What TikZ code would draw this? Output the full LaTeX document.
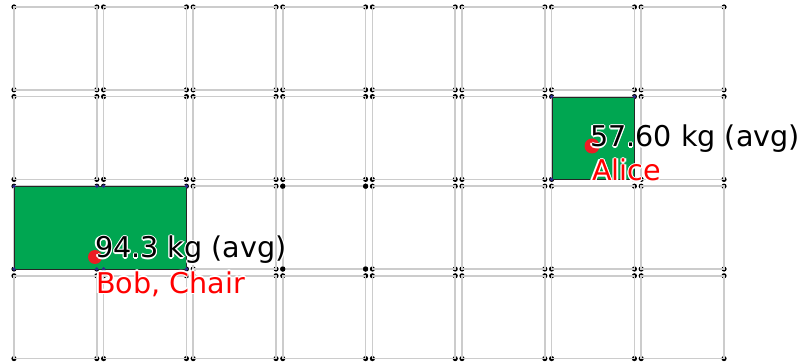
\documentclass[tikz,border=0pt]{standalone}
\usepackage{fontspec}
\setmainfont{DejaVu Sans}
\definecolor{cellgray}{RGB}{204,204,204}
\definecolor{boxgreen}{RGB}{0,166,81}
\definecolor{dotred}{RGB}{236,28,36}
\definecolor{cornerblue}{RGB}{45,45,140}
\newcommand\halotext[4]{%
  \foreach \dx/\dy in {1.3/0,-1.3/0,0/1.3,0/-1.3,0.95/0.95,-0.95/0.95,0.95/-0.95,-0.95/-0.95}{%
    \node[lbl,text=white] at ([shift={(\dx,\dy)}]#2) {#4};}%
  \node[lbl,text=#3] (#1) at (#2) {#4};}
\begin{document}
\begin{tikzpicture}[x=1pt,y=-1pt,
  cellbox/.style={inner sep=0pt,minimum size=82.4pt,anchor=north west},
  cellline/.style={draw=cellgray,line width=1.7pt},
  cdot/.style={fill=black},
  greenbox/.style={fill=boxgreen,draw=black!85,line width=1.2pt,inner sep=0pt,anchor=north west},
  reddot/.style={circle,fill=dotred,inner sep=0pt,minimum size=15pt},
  lbl/.style={anchor=base west,inner sep=0pt,font=\fontsize{28.6}{34}\selectfont}]
\useasboundingbox (0,0) rectangle (800,363);
% cell nodes
\foreach \i in {0,...,7}{\foreach \j in {0,...,3}{
  \pgfmathsetmacro\l{14+89.6*\i}
  \pgfmathsetmacro\t{7+89.6*\j}
  \node[cellbox] (c-\i-\j) at (\l,\t) {};
}}
% corner dots under the lines
\foreach \i in {0,...,7}{\foreach \j in {0,...,3}{
  \foreach \a in {north west,north east,south west,south east}{
    \fill[cdot] (c-\i-\j.\a) circle (2.6);}
}}
% cell outlines
\foreach \i in {0,...,7}{\foreach \j in {0,...,3}{
  \draw[cellline] (c-\i-\j.north west) rectangle (c-\i-\j.south east);
}}
% full dots of one cell
\foreach \a in {north west,north east,south west,south east}{
  \fill[cdot] (c-3-2.\a) circle (2.6);}
% green boxes
\node[greenbox,minimum width=172pt,minimum height=82.4pt] (bob) at (c-0-2.north west) {};
\node[greenbox,minimum width=82.4pt,minimum height=82.4pt] (alice) at (c-6-1.north west) {};
% blue corner dots
\foreach \c in {c-0-2,c-1-2,c-6-1}{
  \foreach \a in {north west,north east,south west,south east}{
    \fill[cornerblue] (\c.\a) circle (1.9);}}
% red markers
\node[reddot,minimum size=14pt] (bobdot) at (95,257) {};
\node[reddot] (alicedot) at (592,146) {};
% labels
\coordinate (bobv) at (95,258);
\coordinate (bobn) at (96,293);
\coordinate (alicev) at (590,147);
\coordinate (alicen) at (592,181);
\halotext{bobval}{bobv}{black}{94.3 kg (avg)}
\halotext{bobname}{bobn}{red}{Bob, Chair}
\halotext{aliceval}{alicev}{black}{57.60 kg (avg)}
\halotext{alicename}{alicen}{red}{Alice}
\end{tikzpicture}
\end{document}
